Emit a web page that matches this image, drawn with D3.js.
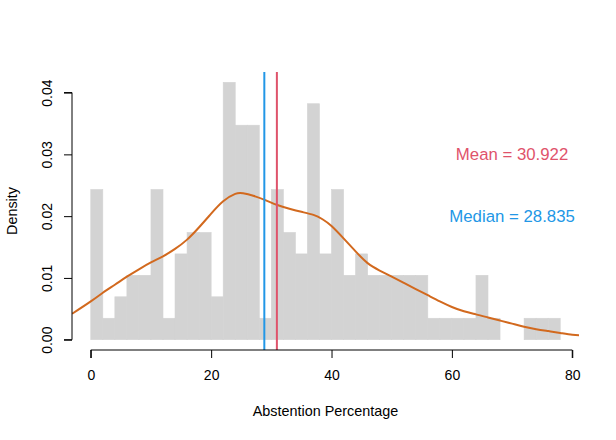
<!DOCTYPE html>
<html><head>
<meta charset="utf-8">
<title>Abstention Percentage</title>
<style>
body { margin: 0; background: #fff; }
svg text { font-family: "Liberation Sans", Arial, Helvetica, sans-serif; fill: #000; }
</style>
<script src="https://d3js.org/d3.v7.min.js"></script>
</head>
<body>
<svg id="chart" width="616" height="440"></svg>
<script>
// histogram: bins of width 2 from 0 to 78, counts
const binEdges = d3.range(0, 78, 2);
const binCounts = [7, 1, 2, 3, 3, 7, 1, 4, 5, 5, 2, 12, 10, 10, 1, 7, 5, 4, 11, 4,
                   7, 3, 4, 3, 3, 3, 3, 3, 1, 1, 1, 1, 3, 1, 0, 0, 1, 1, 1];
const binWidth = 2;

// kernel density estimate
const densX = [-3.1, 0, 2, 4, 6, 8, 10, 12, 14, 16, 18, 20, 22, 24, 25.3, 27, 29, 31, 33, 35,
               37, 38.5, 40, 42, 44, 46, 48, 50, 52, 54, 56, 58, 60, 62, 64, 66, 68, 70, 72,
               74, 76, 78, 80, 81.2];
const densY = [0.0042, 0.0062, 0.0076, 0.0089, 0.0102, 0.0114, 0.0125, 0.0135, 0.0147, 0.0162,
               0.0182, 0.0204, 0.0224, 0.0236, 0.0237, 0.0233, 0.0226, 0.0218, 0.0212, 0.0207,
               0.0202, 0.0195, 0.0184, 0.0164, 0.0143, 0.0124, 0.0112, 0.0102, 0.0092, 0.0082,
               0.0072, 0.0062, 0.0053, 0.0046, 0.0041, 0.0036, 0.0031, 0.0026, 0.0021,
               0.0017, 0.0014, 0.0011, 0.0008, 0.0007];

const meanVal = 30.922;
const medianVal = 28.835;
const xTicks = [0, 20, 40, 60, 80];
const yTicks = [0, 0.01, 0.02, 0.03, 0.04];

const n = d3.sum(binCounts);
const dens = binCounts.map(c => c / (n * binWidth));
const yMax = d3.max(dens);

const plot = {left: 72, right: 579, top: 72, bottom: 350};
const x = d3.scaleLinear().domain([-0.04 * 78, 78 * 1.04]).range([plot.left, plot.right]);
const y = d3.scaleLinear().domain([-0.04 * yMax, yMax * 1.04]).range([plot.bottom, plot.top]);

const svg = d3.select("#chart");

svg.append("defs").append("clipPath").attr("id", "plotclip")
  .append("rect")
  .attr("x", plot.left).attr("y", plot.top)
  .attr("width", plot.right - plot.left).attr("height", plot.bottom - plot.top);

// bars
svg.append("g").selectAll("rect")
  .data(binEdges)
  .join("rect")
  .attr("x", (d) => x(d))
  .attr("width", (d) => x(d + binWidth) - x(d))
  .attr("y", (d, i) => y(dens[i]))
  .attr("height", (d, i) => y(0) - y(dens[i]))
  .attr("fill", "#d3d3d3")
  .attr("stroke", "#d3d3d3")
  .attr("stroke-width", 0.6);

// density curve
const line = d3.line()
  .x((d, i) => x(densX[i]))
  .y((d, i) => y(densY[i]))
  .curve(d3.curveNatural);

svg.append("path")
  .datum(densX)
  .attr("clip-path", "url(#plotclip)")
  .attr("d", line)
  .attr("fill", "none")
  .attr("stroke", "#d2691e")
  .attr("stroke-width", 2);

// mean / median lines
svg.append("line")
  .attr("x1", x(medianVal)).attr("x2", x(medianVal))
  .attr("y1", plot.top).attr("y2", plot.bottom)
  .attr("stroke", "#2297e6").attr("stroke-width", 2);
svg.append("line")
  .attr("x1", x(meanVal)).attr("x2", x(meanVal))
  .attr("y1", plot.top).attr("y2", plot.bottom)
  .attr("stroke", "#df536b").attr("stroke-width", 2);

// annotations
svg.append("text")
  .attr("x", x(70)).attr("y", y(0.03))
  .attr("dy", "0.35em")
  .attr("text-anchor", "middle")
  .style("font-size", "16.8px")
  .style("fill", "#df536b")
  .text("Mean = " + meanVal.toFixed(3));
svg.append("text")
  .attr("x", x(70)).attr("y", y(0.02))
  .attr("dy", "0.35em")
  .attr("text-anchor", "middle")
  .style("font-size", "16.8px")
  .style("fill", "#2297e6")
  .text("Median = " + medianVal.toFixed(3));

// axes, base R style
const xAxis = svg.append("g")
  .attr("transform", `translate(0,${plot.bottom})`)
  .call(d3.axisBottom(x).tickValues(xTicks).tickSize(8).tickPadding(12).tickFormat(d3.format("d")));
const yAxis = svg.append("g")
  .attr("transform", `translate(${plot.left},0)`)
  .call(d3.axisLeft(y).tickValues(yTicks).tickSize(8).tickFormat(d3.format(".2f")));

[xAxis, yAxis].forEach(g => {
  g.selectAll("path, line").attr("stroke", "#000");
  g.selectAll("text").style("font-size", "14px").attr("fill", "#000");
});
xAxis.select(".domain").attr("d", `M${x(0)},8V0H${x(80)}V8`);
yAxis.select(".domain").attr("d", `M-8,${y(0)}H0V${y(0.04)}H-8`);

// rotated y tick labels (las = 0)
yAxis.selectAll(".tick text")
  .attr("x", null)
  .attr("text-anchor", "middle")
  .attr("transform", "translate(-25,0) rotate(-90)")
  .attr("dy", "0.35em");

// axis titles, centred on the plot region
svg.append("text")
  .attr("x", (plot.left + plot.right) / 2).attr("y", 411)
  .attr("dy", "0.35em")
  .attr("text-anchor", "middle")
  .style("font-size", "14.4px")
  .text("Abstention Percentage");

svg.append("text")
  .attr("transform", `translate(12,${(plot.top + plot.bottom) / 2}) rotate(-90)`)
  .attr("dy", "0.35em")
  .attr("text-anchor", "middle")
  .style("font-size", "14.4px")
  .text("Density");
</script>
</body></html>
